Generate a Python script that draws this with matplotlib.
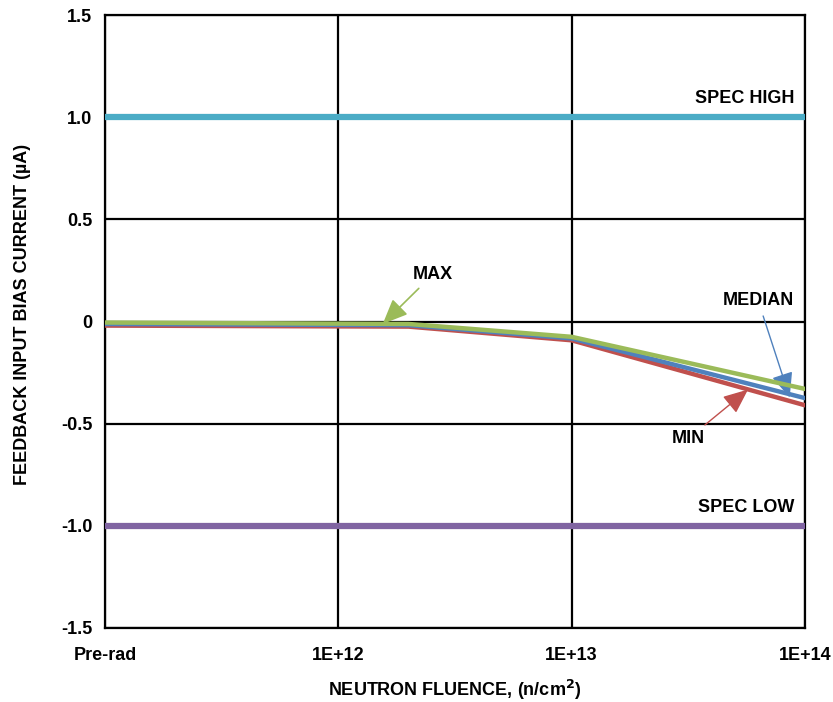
import matplotlib
matplotlib.use("Agg")
import matplotlib.pyplot as plt
import numpy as np

plt.rcParams['font.family'] = ['Liberation Sans', 'DejaVu Sans']

# Data
fluence = [1e11, 2e12, 1e13, 1e14]   # Pre-rad plotted at 1E+11 position
max_vals = [-0.005, -0.012, -0.075, -0.33]
median_vals = [-0.012, -0.018, -0.083, -0.375]
min_vals = [-0.02, -0.025, -0.092, -0.41]
spec_high = 1.0
spec_low = -1.0
xtick_pos = [1e11, 1e12, 1e13, 1e14]
xtick_labels = ["Pre-rad", "1E+12", "1E+13", "1E+14"]
ytick_pos = [-1.5, -1.0, -0.5, 0, 0.5, 1.0, 1.5]
ytick_labels = ["-1.5", "-1.0", "-0.5", "0", "0.5", "1.0", "1.5"]

c_high = "#4BACC6"
c_low = "#8064A2"
c_max = "#9BBB59"
c_med = "#4F81BD"
c_min = "#C0504D"

FS = 13

fig = plt.figure(figsize=(8.33, 7.02), dpi=100)
ax = fig.add_axes([105/833, 1-628/702, 700/833, 613/702])
ax.set_xscale('log')
ax.set_xlim(1e11, 1e14)
ax.set_ylim(-1.5, 1.5)

ax.grid(True, which='major', color='black', linewidth=1.6)
ax.minorticks_off()
ax.set_axisbelow(True)
for s in ax.spines.values():
    s.set_linewidth(1.6)
    s.set_color('black')

ax.axhline(spec_high, color=c_high, linewidth=4.5, zorder=3)
ax.axhline(spec_low, color=c_low, linewidth=4.5, zorder=3)

ax.plot(fluence, min_vals, color=c_min, linewidth=3.2, zorder=4)
ax.plot(fluence, median_vals, color=c_med, linewidth=3.2, zorder=5)
ax.plot(fluence, max_vals, color=c_max, linewidth=3.2, zorder=6)

ax.set_xticks(xtick_pos)
ax.set_xticklabels(xtick_labels)
ax.set_yticks(ytick_pos)
ax.set_yticklabels(ytick_labels)
ax.tick_params(axis='x', length=0, labelsize=FS, pad=14)
ax.tick_params(axis='y', length=0, labelsize=FS, pad=9)
for lab in ax.get_xticklabels() + ax.get_yticklabels():
    lab.set_fontweight('bold')

ax.set_xlabel("NEUTRON FLUENCE, (n/cm$^\\mathbf{2}$)", fontsize=FS, fontweight='bold', labelpad=10)
ax.set_ylabel("FEEDBACK INPUT BIAS CURRENT (µA)", fontsize=FS, fontweight='bold')
ax.yaxis.set_label_coords(-0.106, 0.511)

ax.text(0.985, 1.05, "SPEC HIGH", transform=ax.get_yaxis_transform(), ha='right', va='bottom',
        fontsize=FS, fontweight='bold')
ax.text(0.985, -0.95, "SPEC LOW", transform=ax.get_yaxis_transform(), ha='right', va='bottom',
        fontsize=FS, fontweight='bold')

astyle = '-|>,head_length=0.7,head_width=0.3'
ax.annotate("MAX", xy=(1.55e12, -0.012), xytext=(2.55e12, 0.19), ha='center', va='bottom',
            fontsize=FS, fontweight='bold',
            arrowprops=dict(arrowstyle=astyle, color=c_max, lw=1.2, mutation_scale=22,
                            shrinkA=3, shrinkB=0))
ax.annotate("MEDIAN", xy=(8.6e13, -0.372), xytext=(6.3e13, 0.06), ha='center', va='bottom',
            fontsize=FS, fontweight='bold',
            arrowprops=dict(arrowstyle=astyle, color=c_med, lw=1.0, mutation_scale=22,
                            shrinkA=3, shrinkB=0))
ax.annotate("MIN", xy=(5.7e13, -0.333), xytext=(3.15e13, -0.533), ha='center', va='top',
            fontsize=FS, fontweight='bold',
            arrowprops=dict(arrowstyle=astyle, color=c_min, lw=1.0, mutation_scale=22,
                            shrinkA=3, shrinkB=0))

fig.savefig("out.png", dpi=100)
